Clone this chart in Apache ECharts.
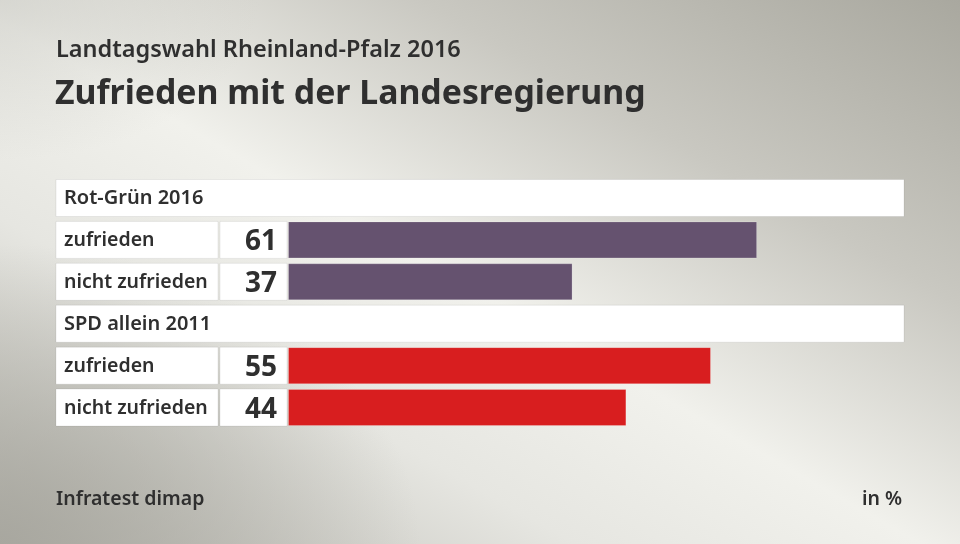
<!DOCTYPE html>
<html>
<head>
<meta charset="utf-8">
<script src="https://cdn.jsdelivr.net/npm/echarts@6/dist/echarts.min.js"></script>
<style>
html,body{margin:0;padding:0;}
#chart{width:960px;height:544px;
background:
radial-gradient(ellipse 420px 300px at 0% 100%, rgba(165,164,156,0.85) 0%, rgba(165,164,156,0) 100%),
radial-gradient(ellipse 260px 160px at 0% 0%, rgba(200,200,194,0.6) 0%, rgba(200,200,194,0) 100%),
linear-gradient(to top right, #b9b8b1 0%, #e6e6e1 30%, #f1f1ec 48%, #c9c8c1 72%, #a9a89f 100%);}
</style>
</head>
<body>
<div id="chart"></div>
<script>
// ---- data ----
const groups = ['Rot-Grün 2016', 'SPD allein 2011'];
const answers = ['zufrieden', 'nicht zufrieden'];
const rotGruen2016 = [61, 37];
const spdAllein2011 = [55, 44];
const groupValues = [rotGruen2016, spdAllein2011];
const groupColors = ['#65526f', '#d81e1f'];

const FONT = '"Noto Sans", sans-serif';
const TXT = '#2f2f2f';

const rows = [];
groups.forEach((g, gi) => {
  rows.push({ type: 'h', label: g });
  answers.forEach((a, ai) => rows.push({ type: 'd', label: a, value: groupValues[gi][ai], color: groupColors[gi] }));
});

const chart = echarts.init(document.getElementById('chart'), null, { renderer: 'canvas' });

const option = {
  backgroundColor: 'transparent',
  animation: false,
  title: [
    { text: 'Landtagswahl Rheinland-Pfalz 2016', left: 56, top: 38.5, padding: 0,
      textStyle: { fontFamily: FONT, fontSize: 23.5, fontWeight: 600, color: TXT } },
    { text: 'Zufrieden mit der Landesregierung', left: 55, top: 77.5, padding: 0,
      textStyle: { fontFamily: FONT, fontSize: 33.8, fontWeight: 700, color: TXT } },
    { text: 'Infratest dimap', left: 56, top: 489.5, padding: 0,
      textStyle: { fontFamily: FONT, fontSize: 19.5, fontWeight: 600, color: TXT } },
    { text: 'in %', right: 58, top: 489.5, padding: 0,
      textStyle: { fontFamily: FONT, fontSize: 19.5, fontWeight: 600, color: TXT } }
  ],
  grid: { left: 288, right: 56, top: 177, bottom: 115.5, containLabel: false },
  xAxis: { type: 'value', min: 0, max: 80.1, show: false },
  yAxis: { type: 'category', inverse: true, show: false, data: rows.map((r, i) => String(i)) },
  series: [
    {
      type: 'custom',
      clip: false,
      z: 1,
      encode: { x: 0, y: 1 },
      data: rows.map((r, i) => [0, i]),
      renderItem: function (params, api) {
        const r = rows[params.dataIndex];
        const yc = api.coord([0, params.dataIndex])[1];
        const h = 37;
        const top = yc - h / 2;
        const cellStroke = { fill: '#ffffff', stroke: 'rgba(0,0,0,0.07)', lineWidth: 1 };
        if (r.type === 'h') {
          return { type: 'group', children: [
            { type: 'rect', shape: { x: 56, y: top, width: 848, height: h }, style: cellStroke },
            { type: 'text', style: { x: 64, y: yc + 0.5, text: r.label, verticalAlign: 'middle', align: 'left',
              font: '600 20px ' + FONT, fill: TXT } }
          ]};
        }
        return { type: 'group', children: [
          { type: 'rect', shape: { x: 56, y: top, width: 162, height: h }, style: cellStroke },
          { type: 'rect', shape: { x: 220, y: top, width: 67, height: h }, style: cellStroke },
          { type: 'text', style: { x: 64, y: yc + 0.5, text: r.label, verticalAlign: 'middle', align: 'left',
            font: '600 19.5px ' + FONT, fill: TXT } },
          { type: 'text', style: { x: 277, y: yc + 2, text: String(r.value), verticalAlign: 'middle', align: 'right',
            font: '700 28px ' + FONT, fill: TXT } }
        ]};
      }
    },
    {
      type: 'bar',
      z: 2,
      barWidth: 37,
      data: rows.map(r => r.type === 'd'
        ? { value: r.value, itemStyle: { color: r.color, borderColor: 'rgba(255,255,255,0.2)', borderWidth: 1 } }
        : '-'),
      label: { show: false }
    }
  ]
};
chart.setOption(option);
</script>
</body>
</html>
